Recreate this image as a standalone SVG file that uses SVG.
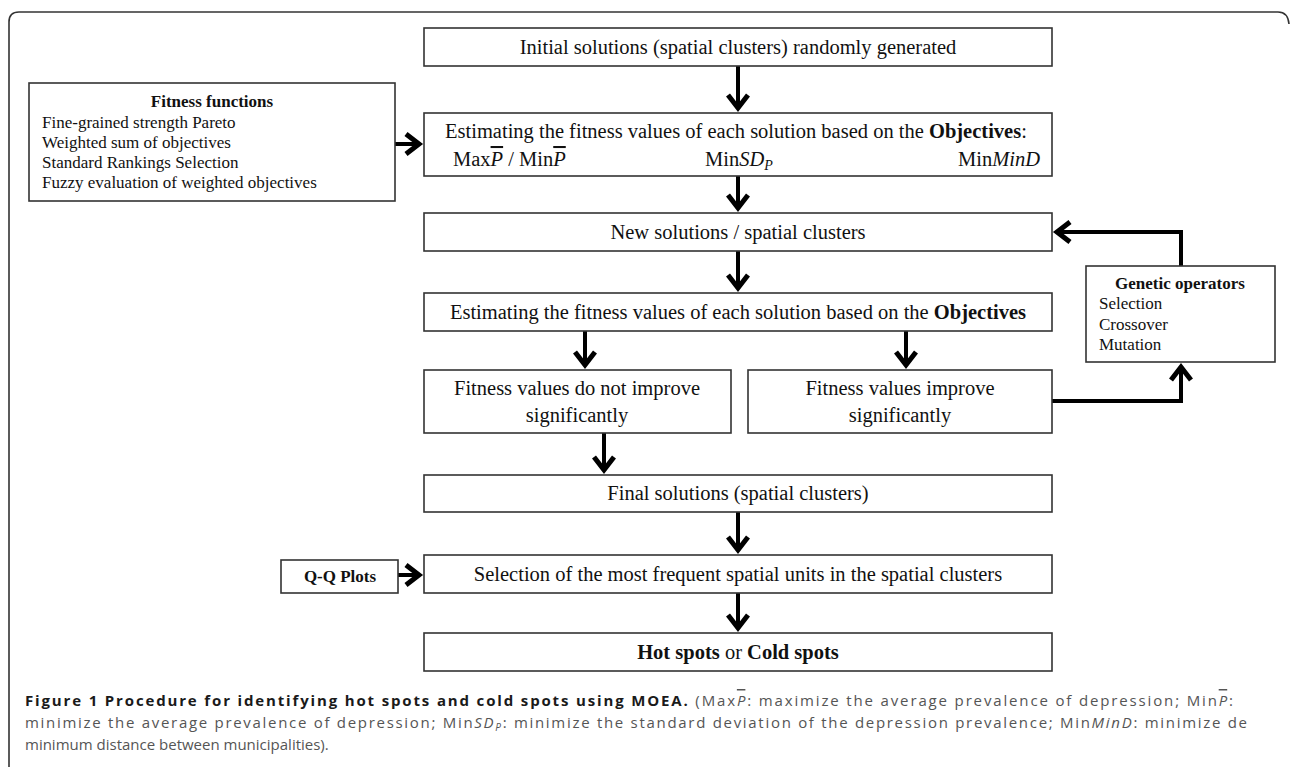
<svg xmlns="http://www.w3.org/2000/svg" width="1290" height="767" viewBox="0 0 1290 767">
<style>
.box{fill:#fff;stroke:#333;stroke-width:1.6}
.t{font-family:"Liberation Serif","Times New Roman",serif;font-size:20.5px;fill:#111}
.s{font-family:"Liberation Serif","Times New Roman",serif;font-size:17px;fill:#111}
.b{font-weight:bold}
.m{font-style:italic}
.ov{text-decoration:overline}
.c{fill:none;stroke:#000;stroke-width:4;stroke-linejoin:miter}
.cap{font-family:"Open Sans","Liberation Sans",sans-serif;font-size:15px;fill:#555}
</style>
<defs>
<marker id="ah" markerUnits="userSpaceOnUse" markerWidth="40" markerHeight="40" viewBox="-20 -20 40 40" refX="0" refY="0" orient="auto" overflow="visible">
<path d="M -13,-10 L 0,0 L -13,10" fill="none" stroke="#000" stroke-width="5" stroke-linejoin="miter" stroke-miterlimit="10"/>
</marker>
</defs>
<rect width="1290" height="767" fill="#fff"/>
<path id="frame" d="M 9,767 V 22 Q 9,12 19,12 H 1278 Q 1288,12 1289,24" fill="none" stroke="#333" stroke-width="1.6"/>

<g id="connectors">
<path class="c" d="M 738,66 V 108" marker-end="url(#ah)"/>
<path class="c" d="M 395,144 H 419" marker-end="url(#ah)"/>
<path class="c" d="M 738,176 V 208" marker-end="url(#ah)"/>
<path class="c" d="M 738,251 V 288" marker-end="url(#ah)"/>
<path class="c" d="M 585,331 V 365" marker-end="url(#ah)"/>
<path class="c" d="M 906,331 V 365" marker-end="url(#ah)"/>
<path class="c" d="M 604,433 V 470" marker-end="url(#ah)"/>
<path class="c" d="M 738,512 V 550" marker-end="url(#ah)"/>
<path class="c" d="M 738,593 V 628" marker-end="url(#ah)"/>
<path class="c" d="M 398,575 H 419" marker-end="url(#ah)"/>
<path class="c" d="M 1052,401 H 1181 V 367" marker-end="url(#ah)"/>
<path class="c" d="M 1181,266 V 232 H 1057" marker-end="url(#ah)"/>
</g>

<g id="n-initial">
<rect class="box" x="424" y="28" width="628" height="38"/>
<text class="t" x="738" y="54" text-anchor="middle">Initial solutions (spatial clusters) randomly generated</text>
</g>

<g id="n-fitness-functions">
<rect class="box" x="29" y="83" width="366" height="118"/>
<text class="s b" x="212" y="107" text-anchor="middle">Fitness functions</text>
<text class="s" x="42" y="128">Fine-grained strength Pareto</text>
<text class="s" x="42" y="148">Weighted sum of objectives</text>
<text class="s" x="42" y="168">Standard Rankings Selection</text>
<text class="s" x="42" y="188">Fuzzy evaluation of weighted objectives</text>
</g>

<g id="n-estimate1">
<rect class="box" x="424" y="113" width="628" height="63"/>
<text class="t" x="445" y="138">Estimating the fitness values of each solution based on the <tspan class="b">Objectives</tspan>:</text>
<text class="t" x="453" y="166">Max<tspan class="m ov">P</tspan> / Min<tspan class="m ov">P</tspan></text>
<text class="t" x="705" y="166">Min<tspan class="m">SD</tspan><tspan class="m" font-size="14" dy="4">P</tspan></text>
<text class="t" x="958" y="166">Min<tspan class="m">MinD</tspan></text>
</g>

<g id="n-new">
<rect class="box" x="424" y="213" width="628" height="38"/>
<text class="t" x="738" y="239" text-anchor="middle">New solutions / spatial clusters</text>
</g>

<g id="n-estimate2">
<rect class="box" x="424" y="293" width="628" height="38"/>
<text class="t" x="738" y="319" text-anchor="middle">Estimating the fitness values of each solution based on the <tspan class="b">Objectives</tspan></text>
</g>

<g id="n-not-improve">
<rect class="box" x="424" y="370" width="307" height="63"/>
<text class="t" x="577" y="395" text-anchor="middle">Fitness values do not improve</text>
<text class="t" x="577" y="422" text-anchor="middle">significantly</text>
</g>

<g id="n-improve">
<rect class="box" x="748" y="370" width="304" height="63"/>
<text class="t" x="900" y="395" text-anchor="middle">Fitness values improve</text>
<text class="t" x="900" y="422" text-anchor="middle">significantly</text>
</g>

<g id="n-genetic">
<rect class="box" x="1086" y="266" width="189" height="96"/>
<text class="s b" x="1180" y="289" text-anchor="middle">Genetic operators</text>
<text class="s" x="1099" y="309">Selection</text>
<text class="s" x="1099" y="330">Crossover</text>
<text class="s" x="1099" y="350">Mutation</text>
</g>

<g id="n-final">
<rect class="box" x="424" y="475" width="628" height="37"/>
<text class="t" x="738" y="500" text-anchor="middle">Final solutions (spatial clusters)</text>
</g>

<g id="n-qq">
<rect class="box" x="281" y="560" width="117" height="33"/>
<text class="s b" x="340" y="582" text-anchor="middle">Q-Q Plots</text>
</g>

<g id="n-selection">
<rect class="box" x="424" y="555" width="628" height="38"/>
<text class="t" x="738" y="581" text-anchor="middle">Selection of the most frequent spatial units in the spatial clusters</text>
</g>

<g id="n-hot">
<rect class="box" x="424" y="633" width="628" height="38"/>
<text class="t" x="738" y="659" text-anchor="middle"><tspan class="b">Hot spots</tspan> or <tspan class="b">Cold spots</tspan></text>
</g>

<g id="caption">
<text class="cap" x="25" y="706" textLength="1208"><tspan font-weight="bold" fill="#1a1a1a">Figure 1 Procedure for identifying hot spots and cold spots using MOEA.</tspan> (Max<tspan font-style="italic" text-decoration="overline">P</tspan>: maximize the average prevalence of depression; Min<tspan font-style="italic" text-decoration="overline">P</tspan>:</text>
<text class="cap" x="25" y="728" textLength="1222">minimize the average prevalence of depression; Min<tspan font-style="italic">SD</tspan><tspan font-style="italic" font-size="10" dy="3">P</tspan><tspan dy="-3">: minimize the standard deviation of the depression prevalence; Min</tspan><tspan font-style="italic">MinD</tspan>: minimize de</text>
<text class="cap" x="25" y="750">minimum distance between municipalities).</text>
</g>
</svg>
